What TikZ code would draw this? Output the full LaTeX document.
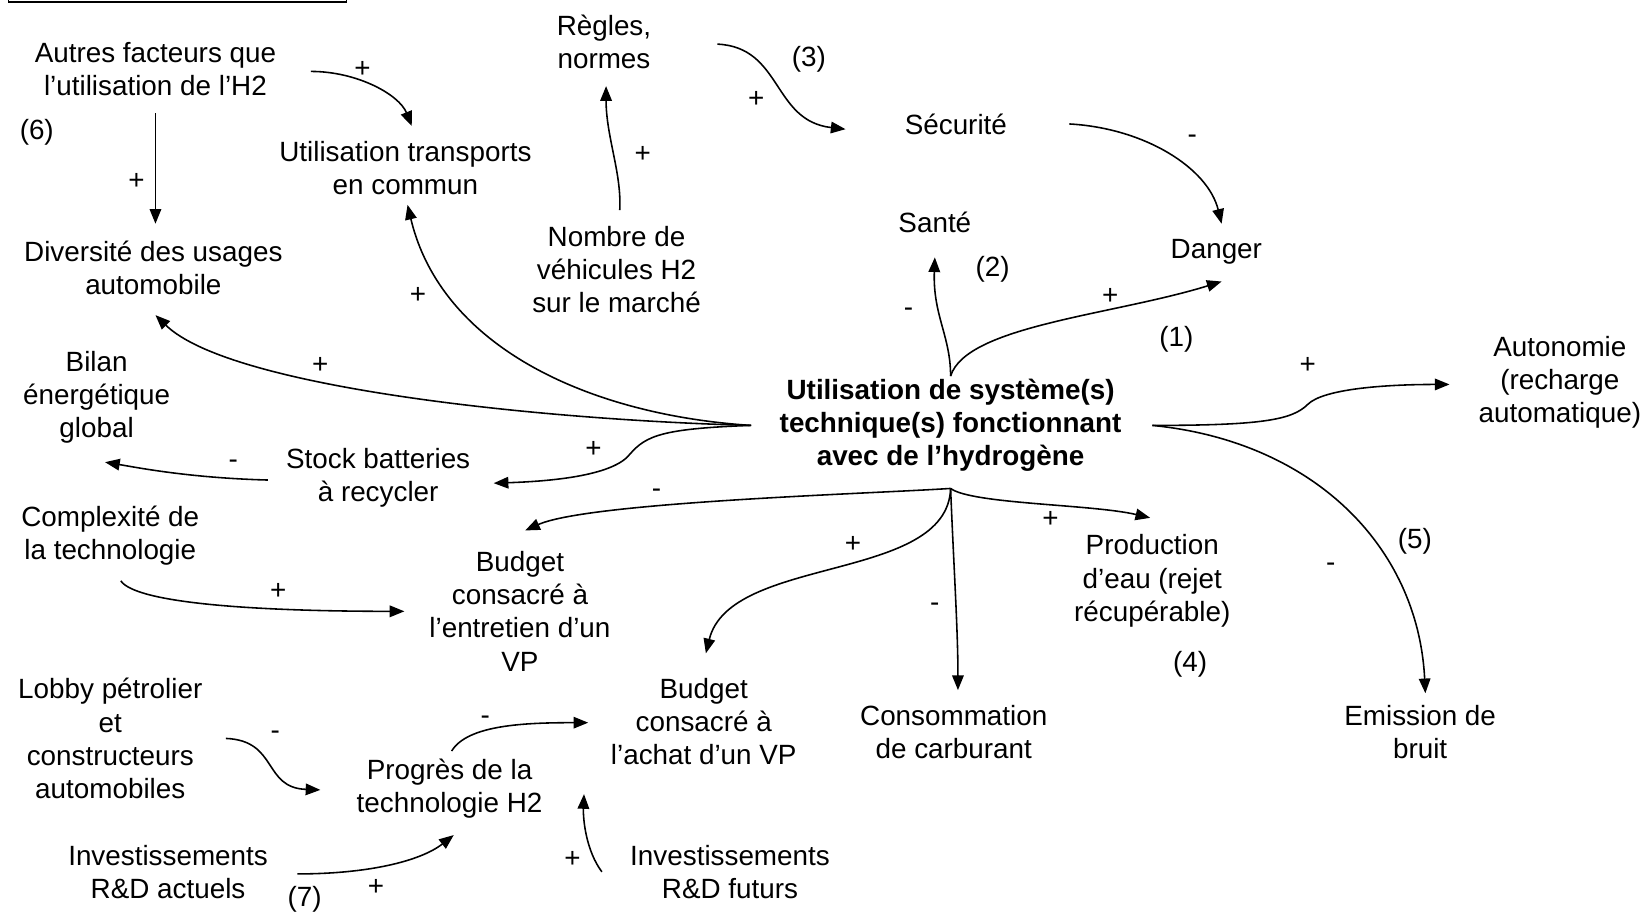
\documentclass[tikz,border=0pt]{standalone}
\usepackage{fontspec}
\setmainfont{Liberation Sans}
\usetikzlibrary{arrows.meta,calc}
\begin{document}
\begin{tikzpicture}[x=1pt,y=-1pt,
  lbl/.style={align=center,inner sep=0pt,font=\fontsize{26.5}{31.5}\selectfont},
  sgn/.style={inner sep=0pt,font=\fontsize{26.5}{31.5}\selectfont},
  conn/.style={draw,line width=1.5pt,-{Triangle[length=14pt,width=11pt]}},
  frame/.style={draw,line width=1.6pt}]
\useasboundingbox (0,0) rectangle (1568,873);
% cut-off box at top left
\coordinate (fa) at (8,0);
\coordinate (fb) at (330,0);
\draw[frame] (fa) -- ++(0,2) -| (fb);
% nodes
\node[lbl] (autres) at (148,66) {Autres facteurs que\\l’utilisation de l’H2};
\node[sgn] (six) at (35,126) {(6)};
\node[lbl] (divers) at (146,255) {Diversité des usages\\automobile};
\node[lbl] (utrans) at (386,160) {Utilisation transports\\en commun};
\node[lbl] (regles) at (575,40) {Règles,\\normes};
\node[sgn] (three) at (770,56) {(3)};
\node[lbl] (secu) at (910,118) {Sécurité};
\node[lbl] (nombre) at (587,257) {Nombre de\\véhicules H2\\sur le marché};
\node[lbl] (sante) at (890,212) {Santé};
\node[sgn] (two) at (945,256) {(2)};
\node[lbl] (danger) at (1158,240) {Danger};
\node[sgn] (one) at (1120,323) {(1)};
\node[lbl,font=\fontsize{26.5}{31.5}\selectfont\bfseries] (central) at (905,405) {Utilisation de système(s)\\technique(s) fonctionnant\\avec de l’hydrogène};
\node[lbl] (auton) at (1485,364) {Autonomie\\(recharge\\automatique)};
\node[lbl] (bilan) at (92,378) {Bilan\\énergétique\\global};
\node[lbl] (stock) at (360,455) {Stock batteries\\à recycler};
\node[lbl] (complex) at (105,510) {Complexité de\\la technologie};
\node[lbl] (bentre) at (495,582) {Budget\\consacré à\\l’entretien d’un\\VP};
\node[lbl] (prod) at (1097,553) {Production\\d’eau (rejet\\récupérable)};
\node[sgn] (four) at (1133,632) {(4)};
\node[sgn] (five) at (1347,515) {(5)};
\node[lbl] (emission) at (1352,697) {Emission de\\bruit};
\node[lbl] (conso) at (908,697) {Consommation\\de carburant};
\node[lbl] (bachat) at (670,687) {Budget\\consacré à\\l’achat d’un VP};
\node[lbl] (lobby) at (105,703) {Lobby pétrolier\\et\\constructeurs\\automobiles};
\node[lbl] (progres) at (428,751) {Progrès de la\\technologie H2};
\node[lbl] (invact) at (160,830) {Investissements\\R\&D actuels};
\node[sgn] (seven) at (290,856) {(7)};
\node[lbl] (invfut) at (695,830) {Investissements\\R\&D futurs};
% hub points of the central node
\coordinate (cL) at ($(central)+(-190,0)$);
\coordinate (cR) at ($(central)+(192,0)$);
\coordinate (cT) at ($(central)+(0,-47)$);
\coordinate (cB) at ($(central)+(0,60)$);
% connectors
\draw[conn] ($(autres)+(0,42)$) -- ($(divers)+(2,-42)$);
\node[sgn] at (130,173) {+};
\draw[conn] ($(autres)+(148,2)$) .. controls (340,68) and (380,90) .. ($(utrans)+(6,-40)$);
\node[sgn] at (345,66) {+};
\draw[conn] (cL) .. controls (560,395) and (420,330) .. ($(utrans)+(2,35)$);
\node[sgn] at (398,281) {+};
\draw[conn] (cL) .. controls (520,400) and (220,370) .. ($(divers)+(2,45)$);
\node[sgn] at (305,348) {+};
\draw[conn] (cL) .. controls (630,408) and (615,415) .. (600,432) .. controls (585,452) and (530,458) .. ($(stock)+(110,5)$);
\node[sgn] at (565,428) {+};
\draw[conn] ($(stock)+(-105,2)$) .. controls (180,455) and (130,445) .. ($(bilan)+(8,62)$);
\node[sgn] at (222,442) {-};
\draw[conn] (cB) .. controls (830,470) and (560,478) .. ($(bentre)+(5,-77)$);
\node[sgn] at (625,470) {-};
\draw[conn] ($(complex)+(10,43)$) .. controls (130,575) and (250,582) .. ($(bentre)+(-110,0)$);
\node[sgn] at (265,563) {+};
\draw[conn] (cB) .. controls (902,555) and (695,528) .. ($(bachat)+(2,-65)$);
\node[sgn] at (812,518) {+};
\draw[conn] (cB) .. controls (908,540) and (912,600) .. ($(conso)+(4,-40)$);
\node[sgn] at (890,578) {-};
\draw[conn] (cB) .. controls (925,480) and (1040,480) .. ($(prod)+(-2,-60)$);
\node[sgn] at (1000,495) {+};
\draw[conn] (cR) .. controls (1200,405) and (1230,400) .. (1245,385) .. controls (1260,370) and (1320,366) .. ($(auton)+(-105,2)$);
\node[sgn] at (1245,348) {+};
\draw[conn] (cR) .. controls (1250,420) and (1350,520) .. ($(emission)+(5,-37)$);
\node[sgn] at (1267,540) {-};
\draw[conn] (cT) .. controls (905,320) and (888,300) .. ($(sante)+(0,33)$);
\node[sgn] at (865,297) {-};
\draw[conn] (cT) .. controls (920,310) and (1060,300) .. ($(danger)+(5,28)$);
\node[sgn] at (1057,282) {+};
\draw[conn] ($(secu)+(108,0)$) .. controls (1090,122) and (1150,160) .. ($(danger)+(5,-27)$);
\node[sgn] at (1135,133) {-};
\draw[conn] ($(regles)+(108,2)$) .. controls (745,45) and (735,115) .. ($(secu)+(-105,5)$);
\node[sgn] at (720,95) {+};
\draw[conn] ($(nombre)+(3,-57)$) .. controls (592,165) and (577,130) .. ($(regles)+(2,42)$);
\node[sgn] at (612,147) {+};
\draw[conn] ($(lobby)+(110,0)$) .. controls (265,705) and (250,750) .. ($(progres)+(-123,1)$);
\node[sgn] at (262,700) {-};
\draw[conn] ($(progres)+(2,-36)$) .. controls (445,690) and (500,688) .. ($(bachat)+(-110,1)$);
\node[sgn] at (462,686) {-};
\draw[conn] ($(invact)+(123,2)$) .. controls (350,832) and (400,820) .. ($(progres)+(4,44)$);
\node[sgn] at (358,845) {+};
\draw[conn] ($(invfut)+(-122,0)$) .. controls (558,810) and (555,780) .. ($(progres)+(128,5)$);
\node[sgn] at (545,818) {+};
\end{tikzpicture}
\end{document}
